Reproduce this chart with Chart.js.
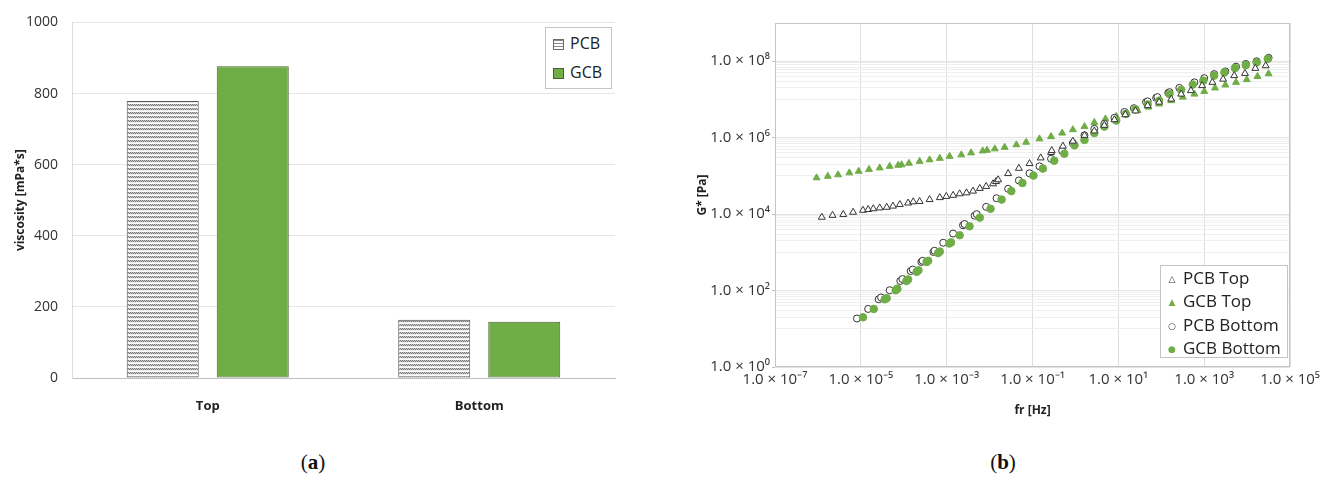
<!DOCTYPE html>
<html>
<head>
<meta charset="utf-8">
<title>Viscosity and G* of PCB / GCB</title>
<script src="https://cdn.jsdelivr.net/npm/chart.js@4.4.1/dist/chart.umd.min.js"></script>
<style>
    html, body { margin: 0; padding: 0; background: #fff; width: 1324px; height: 480px; overflow: hidden; }
    .panel { position: absolute; top: 0; height: 420px; }
    #panelA { left: 0; width: 630px; }
    #panelB { left: 640px; width: 684px; }
    .legend { position: absolute; background: #fff; border: 1px solid #c4c4c4; box-sizing: border-box;
              font-family: "Open Sans", sans-serif; color: #222; }
    .legend .item { position: absolute; left: 0; white-space: nowrap; }
    .legend .mark { display: inline-block; text-align: center; }
    .caption { position: absolute; top: 450px; width: 60px; text-align: center;
               font-family: "Liberation Serif", serif; font-size: 21px; color: #111; }
</style>
</head>
<body>
<div class="panel" id="panelA"><canvas id="viscosityChart" width="630" height="420"></canvas></div>
<div class="panel" id="panelB"><canvas id="modulusChart" width="684" height="420"></canvas></div>
<div class="legend" id="legendA" style="left:545px; top:27px; width:67px; height:62px;"></div>
<div class="legend" id="legendB" style="left:1160px; top:265px; width:128px; height:93px;"></div>
<div class="caption" style="left:283px;">(<b>a</b>)</div>
<div class="caption" style="left:973px;">(<b>b</b>)</div>

<script>
// (a) viscosity bars
const barCategories = ["Top", "Bottom"];
const pcbViscosity = [779, 164];
const gcbViscosity = [877, 158];

// (b) complex modulus G* [Pa] against frequency fr [Hz]
const pcbTopFreq = [1.23e-6, 2.19e-6, 3.9e-6, 6.6e-6, 1.12e-5, 1.48e-5, 1.95e-5, 2.75e-5, 4.0e-5, 5.6e-5,
    8.1e-5, 1.26e-4, 1.66e-4, 2.34e-4, 4.0e-4, 6.9e-4, 9.8e-4, 1.41e-3, 2.0e-3, 2.9e-3, 4.1e-3, 5.9e-3,
    8.3e-3, 1.2e-2, 1.41e-2, 1.58e-2, 2.7e-2, 4.8e-2, 8.5e-2, 0.155, 0.27, 0.28, 0.51, 0.87, 1.62, 2.75,
    4.7, 8.1, 14.5, 25, 48, 89, 170, 290, 490, 890, 1550, 2750, 5000, 8900, 15500, 27000];
const pcbTopG = [8.3e3, 9.3e3, 9.8e3, 1.12e4, 1.26e4, 1.32e4, 1.38e4, 1.45e4, 1.51e4, 1.62e4,
    1.78e4, 1.95e4, 2.1e4, 2.14e4, 2.4e4, 2.7e4, 2.9e4, 3.1e4, 3.4e4, 3.6e4, 4.0e4, 4.7e4,
    5.3e4, 6.2e4, 7.1e4, 7.9e4, 1.15e5, 1.58e5, 2.1e5, 2.95e5, 4.1e5, 4.6e5, 6.0e5, 8.1e5, 1.15e6, 1.5e6,
    2.1e6, 2.95e6, 4.0e6, 5.0e6, 6.9e6, 8.5e6, 1.02e7, 1.38e7, 1.7e7, 2.3e7, 2.8e7, 3.4e7, 4.2e7, 4.8e7, 6.5e7, 7.6e7];

const gcbTopFreq = [9.3e-7, 1.7e-6, 2.95e-6, 5.4e-6, 8.9e-6, 1.55e-5, 2.75e-5, 4.7e-5, 7.4e-5, 8.9e-5,
    1.32e-4, 2.34e-4, 4.0e-4, 6.9e-4, 1.17e-3, 2.19e-3, 3.7e-3, 6.9e-3, 8.7e-3, 1.32e-2, 2.24e-2, 4.2e-2,
    7.1e-2, 0.145, 0.27, 0.49, 0.87, 1.62, 2.75, 5.0, 8.9, 15.8, 28, 50, 89, 170, 316, 590, 1000,
    1780, 3100, 5500, 9800, 17400, 31600];
const gcbTopG = [8.9e4, 9.8e4, 1.07e5, 1.2e5, 1.32e5, 1.48e5, 1.62e5, 1.78e5, 1.9e5, 1.95e5,
    2.14e5, 2.4e5, 2.63e5, 2.88e5, 3.24e5, 3.55e5, 4.0e5, 4.5e5, 4.7e5, 5.1e5, 5.6e5, 6.5e5,
    7.6e5, 9.3e5, 1.07e6, 1.32e6, 1.62e6, 1.95e6, 2.5e6, 3.1e6, 3.6e6, 4.4e6, 5.1e6, 6.3e6, 7.6e6, 9.3e6, 1.15e7, 1.38e7, 1.62e7,
    2.0e7, 2.4e7, 2.8e7, 3.3e7, 4.0e7, 4.7e7];

const pcbBottomFreq = [8.1e-6, 1.48e-5, 2.6e-5, 2.95e-5, 4.7e-5, 8.3e-5, 9.3e-5, 1.45e-4, 1.62e-4, 2.57e-4,
    2.75e-4, 4.9e-4, 5.2e-4, 8.3e-4, 1.41e-3, 2.4e-3, 2.6e-3, 4.5e-3, 5.0e-3, 8.3e-3, 1.45e-2, 2.7e-2,
    4.8e-2, 8.5e-2, 0.145, 0.27, 0.49, 0.87, 1.62, 2.75, 4.7, 8.1, 13.8, 23, 44, 48, 76, 81, 145, 155,
    263, 590, 1000, 1700, 3100, 5500, 9300, 16600, 31600];
const pcbBottomG = [18.6, 33, 59, 66, 102, 178, 200, 324, 355, 560,
    600, 1020, 1100, 1780, 3100, 5100, 5500, 9100, 1.0e4, 1.55e4, 2.6e4, 4.6e4,
    7.6e4, 1.17e5, 1.78e5, 2.8e5, 4.5e5, 7.2e5, 1.15e6, 1.7e6, 2.3e6, 3.3e6, 4.7e6, 5.9e6, 8.5e6, 8.9e6, 1.1e7, 1.15e7, 1.48e7, 1.55e7,
    2.0e7, 2.8e7, 3.6e7, 4.6e7, 5.4e7, 7.2e7, 8.5e7, 1.0e8, 1.23e8];

const gcbBottomFreq = [1.12e-5, 2.0e-5, 3.6e-5, 4.0e-5, 6.5e-5, 7.1e-5, 1.15e-4, 1.26e-4, 2.0e-4, 2.2e-4,
    3.4e-4, 3.7e-4, 6.3e-4, 6.9e-4, 1.15e-3, 1.26e-3, 2.0e-3, 3.4e-3, 5.9e-3, 1.05e-2, 1.9e-2, 3.2e-2,
    5.8e-2, 0.105, 0.174, 0.32, 0.55, 0.95, 1.62, 2.75, 4.7, 8.9, 15, 25, 48, 89, 155, 290, 540, 955,
    1700, 2950, 5200, 9300, 16600, 30200];
const gcbBottomG = [20, 33, 59, 63, 102, 112, 178, 195, 309, 340,
    560, 600, 955, 1050, 1700, 1820, 2800, 4800, 8100, 1.38e4, 2.4e4, 4.0e4,
    6.5e4, 1.02e5, 1.55e5, 2.5e5, 3.8e5, 6.3e5, 8.7e5, 1.32e6, 1.95e6, 2.8e6, 4.2e6, 5.5e6, 7.4e6, 9.3e6, 1.38e7, 1.78e7, 2.45e7, 3.1e7,
    4.2e7, 5.1e7, 6.6e7, 7.9e7, 9.3e7, 1.15e8];

// axis ticks
const viscosityTicks = [0, 200, 400, 600, 800, 1000];
const freqTicks = [1e-7, 1e-5, 1e-3, 1e-1, 1e1, 1e3, 1e5];
const modulusTicks = [1e0, 1e2, 1e4, 1e6, 1e8];

const green = "#70ad47";
const font = "Open Sans";

// "1.0 × 10⁸" style labels
const SUP = { "0": "⁰", "1": "¹", "2": "²", "3": "³", "4": "⁴", "5": "⁵", "6": "⁶", "7": "⁷", "8": "⁸", "9": "⁹", "-": "⁻" };
function sciLabel(v) {
    const e = Math.round(Math.log10(v));
    return "1.0 × 10" + String(e).split("").map(c => SUP[c]).join("");
}

function toPoints(xs, ys) {
    return xs.map((x, i) => ({ x: x, y: ys[i] }));
}

// dotted horizontal hatch used for the PCB bars
function makeHatch(ctx) {
    const c = document.createElement("canvas");
    c.width = 4;
    c.height = 4;
    const g = c.getContext("2d");
    g.fillStyle = "#ffffff";
    g.fillRect(0, 0, 4, 4);
    g.fillStyle = "#7d7d7d";
    g.fillRect(0, 0, 1, 1); g.fillRect(2, 0, 1, 1);
    g.fillRect(1, 1, 1, 1); g.fillRect(3, 1, 1, 1);
    g.fillStyle = "#c4c4c4";
    g.fillRect(1, 0, 1, 1); g.fillRect(3, 0, 1, 1);
    g.fillRect(0, 1, 1, 1); g.fillRect(2, 1, 1, 1);
    g.fillStyle = "#ececec";
    g.fillRect(0, 2, 4, 1);
    return ctx.createPattern(c, "repeat");
}

// gray frame round the plot area of (b)
const frame = {
    id: "frame",
    beforeDatasetsDraw(chart) {
        const a = chart.chartArea;
        const ctx = chart.ctx;
        ctx.save();
        ctx.strokeStyle = "#c6c6c6";
        ctx.lineWidth = 1;
        ctx.strokeRect(Math.round(a.left) + 0.5, Math.round(a.top) + 0.5,
            Math.round(a.width) - 1, Math.round(a.height) - 1);
        ctx.restore();
    }
};

// ---------- (a) bar chart ----------
const ctxA = document.getElementById("viscosityChart").getContext("2d");
const hatch = makeHatch(ctxA);

const barChart = new Chart(ctxA, {
    type: "bar",
    data: {
        labels: barCategories,
        datasets: [
            { label: "PCB", data: pcbViscosity, backgroundColor: hatch, borderColor: "#555555", borderWidth: 1 },
            { label: "GCB", data: gcbViscosity, backgroundColor: green, borderColor: "#44612f", borderWidth: 1 }
        ]
    },
    options: {
        responsive: false,
        animation: false,
        layout: { padding: { top: 21, right: 15, left: 0, bottom: 0 } },
        datasets: { bar: { barPercentage: 0.8, categoryPercentage: 0.663, borderSkipped: false } },
        plugins: { legend: { display: false }, tooltip: { enabled: false } },
        scales: {
            x: {
                grid: { display: false },
                border: { display: true, color: "#bfbfbf" },
                ticks: { color: "#222", font: { family: font, size: 13, weight: "bold" }, padding: 12 },
                afterFit: s => { s.height = 42; }
            },
            y: {
                min: 0,
                max: 1000,
                afterBuildTicks: s => { s.ticks = viscosityTicks.map(v => ({ value: v })); },
                ticks: { color: "#333", font: { family: font, size: 14 }, padding: 14, callback: v => String(v) },
                grid: {
                    drawTicks: false,
                    color: c => (c.tick && c.tick.value === 0) ? "#bfbfbf" : "#e6e6e6"
                },
                border: { display: true, color: "#dcdcdc" },
                title: {
                    display: true, text: "viscosity [mPa*s]", color: "#222",
                    font: { family: font, size: 12, weight: "bold" }, padding: { top: 13, bottom: 0 }
                },
                afterFit: s => { s.width = 72; }
            }
        }
    }
});

// ---------- (b) log-log scatter ----------
const ctxB = document.getElementById("modulusChart").getContext("2d");

// horizontal grid: labelled decades plus the light lines of the odd decades
function modulusGrid() {
    const vals = modulusTicks.slice();
    [1, 3, 5, 7].forEach(n => {
        for (let k = 1; k <= 9; k++) vals.push(k * Math.pow(10, n));
    });
    vals.push(1e9);
    return vals.sort((a, b) => a - b);
}
const isLabelled = v => modulusTicks.some(t => Math.abs(Math.log10(v) - Math.log10(t)) < 1e-6);

const scatterChart = new Chart(ctxB, {
    type: "scatter",
    data: {
        datasets: [
            { label: "PCB Top", data: toPoints(pcbTopFreq, pcbTopG), pointStyle: "triangle", pointRadius: 4,
              backgroundColor: "#ffffff", borderColor: "#333333", borderWidth: 1, order: 1 },
            { label: "GCB Top", data: toPoints(gcbTopFreq, gcbTopG), pointStyle: "triangle", pointRadius: 4,
              backgroundColor: green, borderColor: green, borderWidth: 1, order: 4 },
            { label: "PCB Bottom", data: toPoints(pcbBottomFreq, pcbBottomG), pointStyle: "circle", pointRadius: 3.5,
              backgroundColor: "#ffffff", borderColor: "#333333", borderWidth: 1, order: 3 },
            { label: "GCB Bottom", data: toPoints(gcbBottomFreq, gcbBottomG), pointStyle: "circle", pointRadius: 3.8,
              backgroundColor: green, borderColor: green, borderWidth: 1, order: 2 }
        ]
    },
    options: {
        responsive: false,
        animation: false,
        layout: { padding: { top: 23, right: 33, left: 0, bottom: 0 } },
        plugins: { legend: { display: false }, tooltip: { enabled: false } },
        scales: {
            x: {
                type: "logarithmic",
                min: 1e-7,
                max: 1e5,
                afterBuildTicks: s => { s.ticks = freqTicks.map(v => ({ value: v })); },
                ticks: { autoSkip: false, maxRotation: 0, color: "#333", font: { family: font, size: 15 }, padding: 4,
                         callback: v => sciLabel(v) },
                grid: { color: "#dedede", drawTicks: false },
                border: { display: false },
                title: {
                    display: true, text: "fr [Hz]", color: "#222",
                    font: { family: font, size: 12, weight: "bold" }, padding: { top: 0, bottom: 2 }
                },
                afterFit: s => { s.height = 53; }
            },
            y: {
                type: "logarithmic",
                min: 1e0,
                max: 1e9,
                afterBuildTicks: s => { s.ticks = modulusGrid().map(v => ({ value: v })); },
                ticks: { autoSkip: false, color: "#333", font: { family: font, size: 15 }, padding: 2,
                         callback: v => isLabelled(v) ? sciLabel(v) : "" },
                grid: {
                    tickLength: 3,
                    color: c => (c.tick && isLabelled(c.tick.value)) ? "#e2e2e2" : "#efefef",
                    tickColor: c => (c.tick && isLabelled(c.tick.value)) ? "#bfbfbf" : "rgba(0,0,0,0)"
                },
                border: { display: false },
                title: {
                    display: true, text: "G* [Pa]", color: "#222",
                    font: { family: font, size: 12, weight: "bold" }, padding: { top: 55, bottom: 0 }
                },
                afterFit: s => { s.width = 135; }
            }
        }
    },
    plugins: [frame]
});

// ---------- HTML legends built from the datasets ----------
function buildBarLegend() {
    const box = document.getElementById("legendA");
    barChart.data.datasets.forEach((ds, i) => {
        const item = document.createElement("div");
        item.className = "item";
        item.style.top = (1 + i * 29) + "px";
        item.style.height = "29px";
        item.style.lineHeight = "29px";
        item.style.fontSize = "16px";
        const sw = i === 0
            ? "background: repeating-linear-gradient(180deg, #8a8a8a 0 1px, #fff 1px 3px); border:1px solid #6a6a6a;"
            : "background:" + ds.backgroundColor + "; border:1px solid " + ds.borderColor + ";";
        item.innerHTML = '<span style="display:inline-block; width:9px; height:9px; margin:0 6px 0 7px; vertical-align:-1px; ' +
            sw + '"></span>' + ds.label;
        box.appendChild(item);
    });
}

function buildScatterLegend() {
    const box = document.getElementById("legendB");
    scatterChart.data.datasets.forEach((ds, i) => {
        const filled = ds.backgroundColor !== "#ffffff";
        let sym;
        if (ds.pointStyle === "triangle") sym = filled ? "▲" : "△";
        else sym = filled ? "●" : "○";
        const item = document.createElement("div");
        item.className = "item";
        item.style.top = (0 + i * 23.3) + "px";
        item.style.height = "23px";
        item.style.lineHeight = "23px";
        item.style.fontSize = "17px";
        item.innerHTML = '<span class="mark" style="width:22px; font-size:9px; font-family:\'DejaVu Sans\'; color:' +
            ds.borderColor + '; vertical-align:2px;">' + sym + '</span>' + ds.label;
        box.appendChild(item);
    });
}

buildBarLegend();
buildScatterLegend();
</script>
</body>
</html>
